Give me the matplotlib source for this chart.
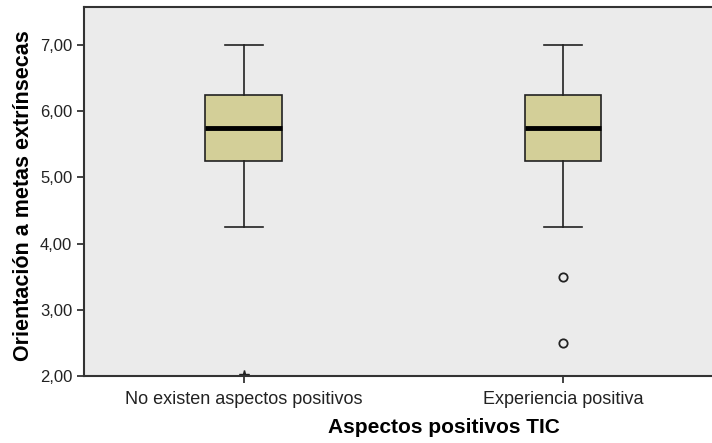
import matplotlib
matplotlib.use('Agg')
import matplotlib.pyplot as plt

plt.rcParams['font.family'] = ['Liberation Sans', 'DejaVu Sans']

# Box summaries
groups = ['No existen aspectos positivos', 'Experiencia positiva']
whislo = [4.25, 4.25]
q1 = [5.25, 5.25]
med = [5.75, 5.75]
q3 = [6.25, 6.25]
whishi = [7.0, 7.0]
outliers = [[], [3.5, 2.5]]
extremes = [[2.0], []]
yticks = [2, 3, 4, 5, 6, 7]

stats = []
for i, name in enumerate(groups):
    stats.append({'label': name, 'whislo': whislo[i], 'q1': q1[i], 'med': med[i],
                  'q3': q3[i], 'whishi': whishi[i], 'fliers': outliers[i]})

fig = plt.figure(figsize=(7.12, 4.43), dpi=100)
ax = fig.add_axes([0.118, 0.151, 0.897, 0.833])
ax.set_facecolor('#ebebeb')

pos = [1, 2]
ax.bxp(stats, positions=pos, widths=0.24, patch_artist=True,
       boxprops=dict(facecolor='#d3cf98', edgecolor='#222222', linewidth=1.2),
       medianprops=dict(color='black', linewidth=3.5),
       whiskerprops=dict(color='#222222', linewidth=1.2),
       capprops=dict(color='#222222', linewidth=1.2),
       capwidths=0.12,
       flierprops=dict(marker='o', markerfacecolor='none', markeredgecolor='#222222',
                       markersize=6, markeredgewidth=1.3))

# extreme values (star), clipped at the axis edge as in the source
for i, ex in enumerate(extremes):
    if ex:
        ax.plot([pos[i]] * len(ex), ex, marker='*', color='#222222', markersize=8,
                linestyle='none', clip_on=True)

ax.set_xlim(0.5, 2.5)
ax.set_ylim(2, 7.57)
ax.set_yticks(yticks)
ax.set_yticklabels([('%.2f' % v).replace('.', ',') for v in yticks])
ax.set_xticks(pos)
ax.set_xticklabels(groups)
ax.tick_params(axis='both', color='#222222', length=5, width=1.2, labelcolor='#222222')
ax.tick_params(axis='y', labelsize=12)
ax.tick_params(axis='x', labelsize=13, pad=6)

for s in ax.spines.values():
    s.set_color('#333333')
    s.set_linewidth(1.5)

ax.set_xlabel('Aspectos positivos TIC', fontsize=15, fontweight='bold')
ax.xaxis.set_label_coords(0.563, -0.113)
ax.set_ylabel('Orientación a metas extrínsecas', fontsize=15.5, fontweight='bold')
ax.yaxis.set_label_coords(-0.078, 0.49)

fig.savefig('out.png', dpi=100)
